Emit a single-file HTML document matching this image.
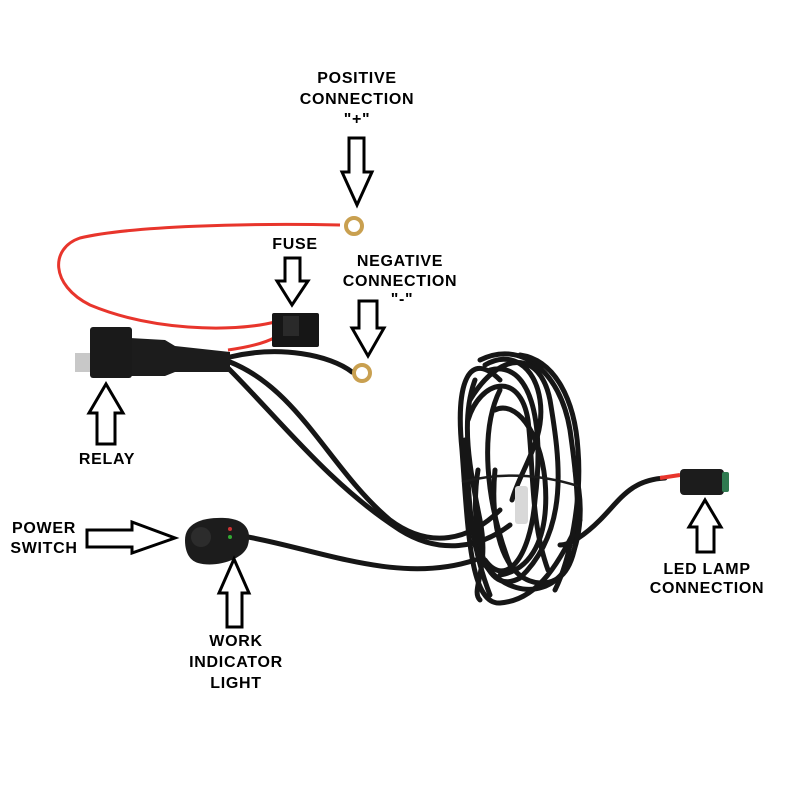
<!DOCTYPE html>
<html><head><meta charset="utf-8"><style>
html,body{margin:0;padding:0;background:#fff}
svg{display:block}
text{font-family:"Liberation Sans",Arial,sans-serif;font-weight:bold;font-size:16px;letter-spacing:0.7px;fill:#000;text-anchor:middle}
</style></head><body>
<svg width="800" height="800" viewBox="0 0 800 800">
<rect width="800" height="800" fill="#fff"/>
<!-- red wire -->
<path d="M340 225 C 250 223, 130 226, 80 238 C 50 248, 50 285, 90 305 C 150 330, 230 333, 275 322" fill="none" stroke="#e8352c" stroke-width="3"/>
<path d="M228 350 C 250 347, 265 343, 276 337" fill="none" stroke="#e8352c" stroke-width="3"/>
<!-- positive ring -->
<circle cx="354" cy="226" r="8" fill="none" stroke="#c9a050" stroke-width="4"/>
<!-- fuse -->
<rect x="272" y="313" width="47" height="34" rx="2" fill="#161616"/>
<rect x="283" y="316" width="16" height="20" fill="#2a2a2a"/>
<!-- black wires -->
<g fill="none" stroke="#161616" stroke-width="5" stroke-linecap="round">
<path d="M230 357 C 280 345, 330 355, 352 372"/>
<path d="M230 362 C 300 390, 330 470, 390 520 C 430 550, 470 540, 500 510"/>
<path d="M228 368 C 280 420, 330 485, 400 530 C 440 555, 480 548, 510 525"/>
<path d="M248 537 C 320 550, 400 585, 475 560"/>
<path d="M665 478 C 630 480, 620 500, 600 520 C 585 535, 570 545, 560 545"/>
<!-- coils -->
<path d="M500 380 C 470 350, 455 380, 462 450 C 468 530, 470 605, 500 603 C 540 600, 560 560, 580 520"/>
<path d="M480 360 C 520 340, 560 370, 570 430 C 580 500, 588 585, 540 583 C 500 580, 490 520, 495 470"/>
<path d="M470 400 C 500 350, 540 350, 550 400 C 560 460, 570 530, 520 578 C 480 600, 470 520, 478 470"/>
<path d="M490 370 C 530 360, 545 420, 535 500 C 530 560, 505 588, 485 560"/>
<path d="M500 390 C 480 430, 485 500, 510 565"/>
<path d="M475 380 C 460 420, 470 470, 480 520 C 490 570, 470 590, 480 600"/>
<path d="M520 355 C 555 360, 575 400, 578 450 C 582 500, 570 560, 555 590"/>
<path d="M465 440 C 470 480, 465 530, 490 595"/>
<path d="M485 365 C 510 350, 535 365, 540 400 C 546 440, 520 470, 512 500"/>
<path d="M468 420 C 480 380, 520 370, 528 420 C 534 470, 530 520, 548 570"/>
<path d="M475 545 C 490 590, 540 605, 565 570 C 580 545, 585 510, 575 470"/>
<path d="M495 410 C 515 400, 540 430, 545 480 C 550 540, 530 570, 500 575"/>
</g>
<g fill="none" stroke="#1c1c1c" stroke-width="2.5">
<path d="M462 482 C 500 472, 540 474, 578 486"/>
</g>
<rect x="515" y="486" width="13" height="38" rx="3" fill="#d8d8d8"/>
<!-- relay -->
<rect x="75" y="353" width="16" height="19" fill="#c8c8c8"/>
<path d="M130 338 L 165 340 L 175 346 L 230 352 L 230 372 L 175 372 L 165 376 L 130 376 Z" fill="#1c1c1c"/>
<rect x="90" y="327" width="42" height="51" rx="3" fill="#1a1a1a"/>
<!-- negative ring -->
<circle cx="362" cy="373" r="8" fill="none" stroke="#c9a050" stroke-width="4"/>
<!-- switch -->
<path d="M185 540 C 185 522, 205 517, 225 518 C 245 519, 252 530, 248 545 C 244 560, 215 568, 198 563 C 188 560, 185 550, 185 540 Z" fill="#1c1c1c"/>
<circle cx="201" cy="537" r="10" fill="#2c2c2c"/>
<circle cx="230" cy="529" r="2" fill="#c33"/>
<circle cx="230" cy="537" r="2" fill="#3a3"/>
<!-- LED connector -->
<path d="M660 478 L 680 475" stroke="#e8352c" stroke-width="4"/>
<rect x="680" y="469" width="44" height="26" rx="4" fill="#1c1c1c"/>
<rect x="722" y="472" width="7" height="20" rx="2" fill="#2f7a50"/>
<!-- arrows -->
<g fill="#fff" stroke="#000" stroke-width="3" stroke-linejoin="miter">
<path d="M349 138 H364 V172 H372 L357 205 L342 172 H349 Z"/>
<path d="M285 258 H300 V281 H308 L292 305 L277 281 H285 Z"/>
<path d="M359 301 H377 V328 H384 L368 356 L352 328 H359 Z"/>
<path d="M97 444 H115 V413 H123 L106 384 L89 413 H97 Z"/>
<path d="M87 530 H132 V522 L175 538 L132 553 V547 H87 Z"/>
<path d="M227 627 H242 V593 H249 L234 559 L219 593 H227 Z"/>
<path d="M697 552 H714 V527 H721 L705 500 L689 527 H697 Z"/>
</g>
<!-- labels -->
<text x="357" y="83">POSITIVE</text>
<text x="357" y="104">CONNECTION</text>
<text x="357" y="124">"+"</text>
<text x="295" y="249">FUSE</text>
<text x="400" y="266">NEGATIVE</text>
<text x="400" y="286">CONNECTION</text>
<text x="402" y="304">"-"</text>
<text x="107" y="464">RELAY</text>
<text x="44" y="533">POWER</text>
<text x="44" y="553">SWITCH</text>
<text x="236" y="646">WORK</text>
<text x="236" y="667">INDICATOR</text>
<text x="236" y="688">LIGHT</text>
<text x="707" y="574">LED LAMP</text>
<text x="707" y="593">CONNECTION</text>
</svg>
</body></html>
